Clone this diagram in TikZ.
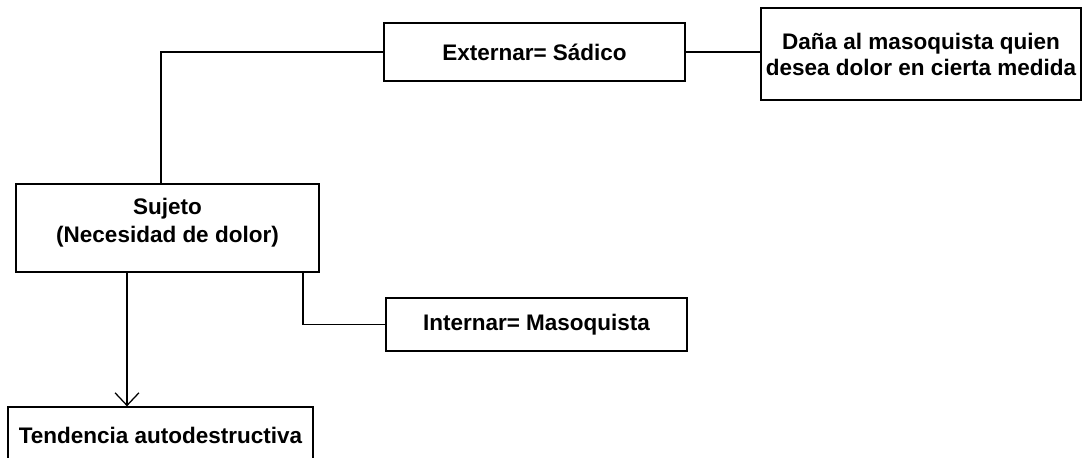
\documentclass[tikz,border=0pt]{standalone}
\usepackage{fontspec}
\setmainfont{Liberation Sans}
\usetikzlibrary{arrows.meta}

\begin{document}
\begin{tikzpicture}[x=0.025cm, y=-0.025cm]
        \tikzstyle{box} = [rectangle, draw=black, line width=0.9pt, fill=white, inner sep=1pt, align=center, font=\fontsize{16}{18.5}\selectfont\bfseries]
        \tikzstyle{link} = [draw=black, line width=0.9pt]

        \useasboundingbox[fill=white] (0,0) rectangle (1083,458);

        \node (ext) [box, minimum width=7.525cm, minimum height=1.45cm] at (534.5,52) {Externar= Sádico};
        \node (dana) [box, minimum width=8cm, minimum height=2.3cm] at (921,54) {Daña al masoquista quien\\desea dolor en cierta medida};
        \node (suj) [box, text depth=11pt, minimum width=7.575cm, minimum height=2.2cm] at (167.5,228) {Sujeto\\[2pt](Necesidad de dolor)};
        \node (int) [box, minimum width=7.525cm, minimum height=1.325cm] at (536.5,324.5) {Internar= Masoquista};
        \node (tend) [box, minimum width=7.625cm, minimum height=1.4cm] at (160.5,435) {Tendencia autodestructiva};

        \draw [link] ([xshift=-0.1625cm]suj.north) |- (ext.west);
        \draw [link] (ext.east) -- (ext.east -| dana.west);
        \draw [link] ([xshift=3.3875cm]suj.south) |- (int.west);
        \draw [link, -{Straight Barb[length=9pt, width=17pt]}] ([xshift=-1.0125cm]suj.south) -- ([xshift=-1.0125cm]suj.south |- tend.north);
    \end{tikzpicture}
\end{document}
